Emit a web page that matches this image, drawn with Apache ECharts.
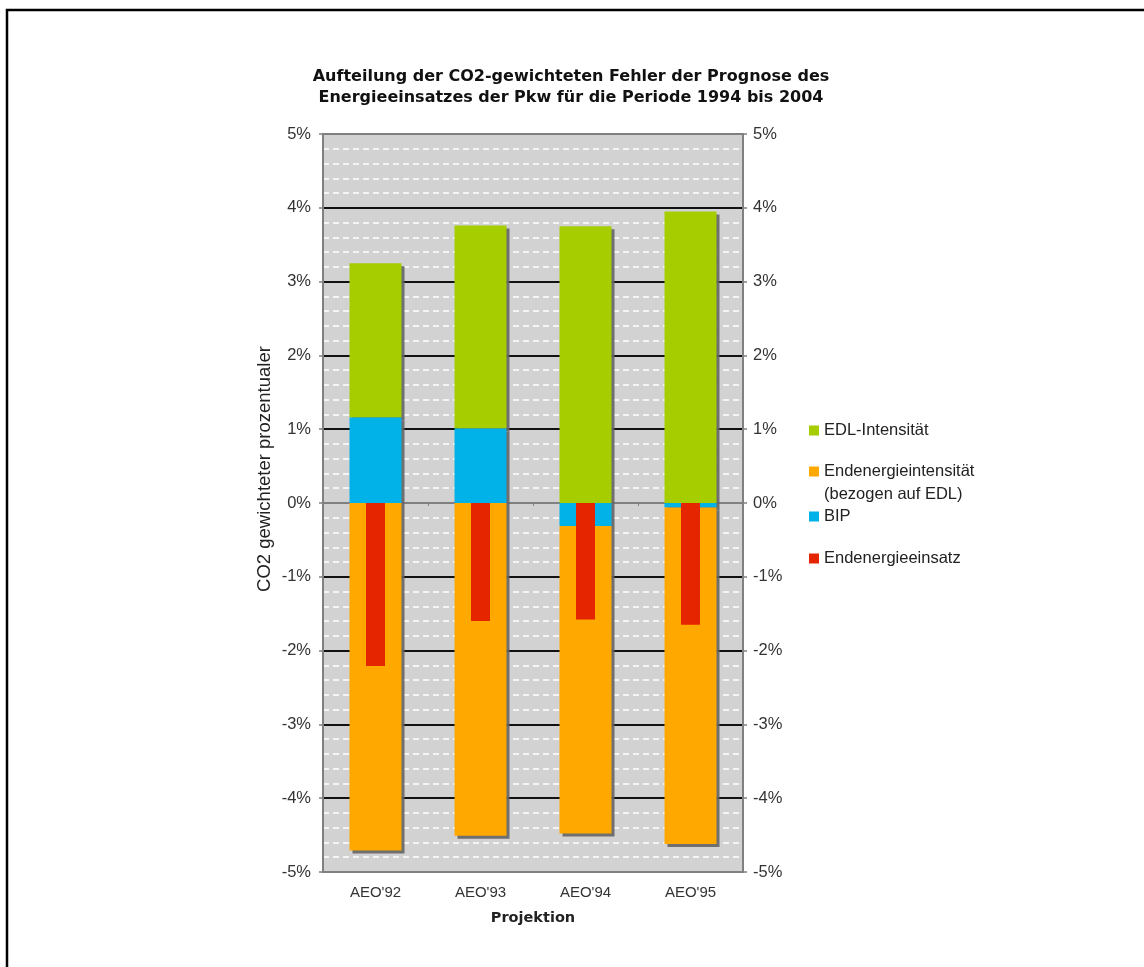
<!DOCTYPE html>
<html>
<head>
<meta charset="utf-8">
<script src="https://cdn.jsdelivr.net/npm/echarts@6/dist/echarts.min.js"></script>
<style>
  html, body { margin: 0; padding: 0; background: #fff; }
  #chart { width: 1144px; height: 967px; }
</style>
</head>
<body>
<div id="chart"></div>
<script>
// Projections and error components (percent, CO2-weighted)
const categories = ["AEO'92", "AEO'93", "AEO'94", "AEO'95"];
const bip = [1.16, 1.01, -0.31, -0.06];
const endenergieintensitaet = [-4.71, -4.51, -4.17, -4.56];
const edlIntensitaet = [2.09, 2.75, 3.75, 3.95];
const endenergieeinsatz = [-2.21, -1.60, -1.58, -1.65];

const yMin = -5, yMax = 5, yStep = 1;

const SANS = "'Liberation Sans', Arial, sans-serif";
const TITLE_FONT = "'DejaVu Sans', Verdana, sans-serif";
const GRAY = '#808080';

const colors = {
  edl: '#A5CD00',
  ende: '#FFA800',
  bip: '#00B2E8',
  einsatz: '#E52500'
};

// one line colour per major tick, from min upwards: border and zero line grey
const majorLineColors = [];
for (let v = yMin; v <= yMax; v += yStep) {
  majorLineColors.push((v === yMin || v === yMax || v === 0) ? GRAY : '#111');
}

const barShadow = {
  shadowColor: 'rgba(100,100,100,0.9)',
  shadowBlur: 0,
  shadowOffsetX: 3,
  shadowOffsetY: 3
};

const NAME_ENDE = 'Endenergieintensität (bezogen auf EDL)';

function legendAt(name, top) {
  return {
    data: [name],
    orient: 'vertical',
    left: 809,
    top: top,
    padding: 0,
    itemWidth: 10,
    itemHeight: 10,
    icon: 'rect',
    selectedMode: false,
    formatter: n => n === NAME_ENDE ? 'Endenergieintensität' : n,
    textStyle: { fontFamily: SANS, fontSize: 16.5, color: '#222' }
  };
}

const chart = echarts.init(document.getElementById('chart'), null, { renderer: 'canvas' });

chart.setOption({
  animation: false,
  backgroundColor: '#fff',
  legend: [
    legendAt('EDL-Intensität', 422),
    legendAt(NAME_ENDE, 463),
    legendAt('BIP', 508),
    legendAt('Endenergieeinsatz', 550)
  ],
  grid: {
    left: 323,
    right: 401,
    top: 134,
    bottom: 95,
    show: true,
    backgroundColor: '#D2D2D2',
    borderColor: GRAY,
    borderWidth: 2
  },
  xAxis: [
    {
      type: 'category',
      data: categories,
      position: 'bottom',
      axisLine: { onZero: false, lineStyle: { color: GRAY, width: 2 } },
      axisTick: { show: false },
      axisLabel: { fontFamily: SANS, fontSize: 15, color: '#333', margin: 13 },
      name: 'Projektion',
      nameLocation: 'middle',
      nameGap: 39,
      nameTextStyle: { fontFamily: TITLE_FONT, fontWeight: 'bold', fontSize: 14.5, color: '#222' }
    },
    {
      // zero line with the category boundary ticks; also carries the narrow bars
      type: 'category',
      data: categories,
      position: 'bottom',
      axisLine: { show: true, onZero: true, lineStyle: { color: GRAY, width: 1.5 } },
      axisTick: { show: true, length: 3, lineStyle: { color: GRAY, width: 1 } },
      axisLabel: { show: false },
      splitLine: { show: false }
    }
  ],
  yAxis: [
    {
      type: 'value',
      min: yMin,
      max: yMax,
      interval: yStep,
      position: 'left',
      axisLine: { show: true, lineStyle: { color: GRAY, width: 2 } },
      axisTick: { show: true, length: 4, lineStyle: { color: GRAY, width: 1.5 } },
      axisLabel: {
        fontFamily: SANS, fontSize: 16.5, color: '#333', margin: 12,
        formatter: v => v + '%'
      },
      splitLine: { show: true, lineStyle: { color: majorLineColors, width: 2 } },
      minorTick: { show: false, splitNumber: 5 },
      minorSplitLine: { show: true, lineStyle: { color: '#fff', width: 1.5, type: [6, 4] } }
    },
    {
      type: 'value',
      min: yMin,
      max: yMax,
      interval: yStep,
      position: 'right',
      axisLine: { show: true, lineStyle: { color: GRAY, width: 2 } },
      axisTick: { show: true, length: 4, lineStyle: { color: GRAY, width: 1.5 } },
      axisLabel: {
        fontFamily: SANS, fontSize: 16.5, color: '#333', margin: 10,
        formatter: v => v + '%'
      },
      splitLine: { show: false }
    }
  ],
  series: [
    {
      name: 'BIP',
      type: 'bar',
      stack: 'fehler',
      xAxisIndex: 0,
      yAxisIndex: 0,
      barWidth: 52,
      z: 3,
      data: bip,
      itemStyle: Object.assign({ color: colors.bip }, barShadow)
    },
    {
      name: NAME_ENDE,
      type: 'bar',
      stack: 'fehler',
      xAxisIndex: 0,
      yAxisIndex: 0,
      barWidth: 52,
      z: 4,
      data: endenergieintensitaet,
      itemStyle: Object.assign({ color: colors.ende }, barShadow)
    },
    {
      name: 'EDL-Intensität',
      type: 'bar',
      stack: 'fehler',
      xAxisIndex: 0,
      yAxisIndex: 0,
      barWidth: 52,
      z: 2,
      data: edlIntensitaet,
      itemStyle: Object.assign({ color: colors.edl }, barShadow)
    },
    {
      name: 'Endenergieeinsatz',
      type: 'bar',
      xAxisIndex: 1,
      yAxisIndex: 1,
      barWidth: 19,
      z: 5,
      data: endenergieeinsatz,
      itemStyle: { color: colors.einsatz }
    }
  ],
  graphic: [
    {
      // chart title, two centred lines
      type: 'text',
      x: 571,
      y: 66,
      style: {
        text: 'Aufteilung der CO2-gewichteten Fehler der Prognose des\nEnergieeinsatzes der Pkw für die Periode 1994 bis 2004',
        font: 'bold 16px ' + TITLE_FONT,
        lineHeight: 21,
        fill: '#111',
        align: 'center',
        verticalAlign: 'top'
      }
    },
    {
      type: 'text',
      left: 824,
      top: 486,
      style: {
        text: '(bezogen auf EDL)',
        font: '16.5px ' + SANS,
        fill: '#222'
      }
    },
    {
      type: 'text',
      x: 265,
      y: 469,
      rotation: Math.PI / 2,
      style: {
        text: 'CO2 gewichteter prozentualer',
        font: '18.5px ' + SANS,
        fill: '#222',
        align: 'center',
        verticalAlign: 'middle'
      }
    },
    {
      type: 'polyline',
      shape: { points: [[7, 967], [7, 10], [1144, 10]] },
      style: { stroke: '#000', lineWidth: 2.5, fill: null }
    }
  ]
});
</script>
</body>
</html>
